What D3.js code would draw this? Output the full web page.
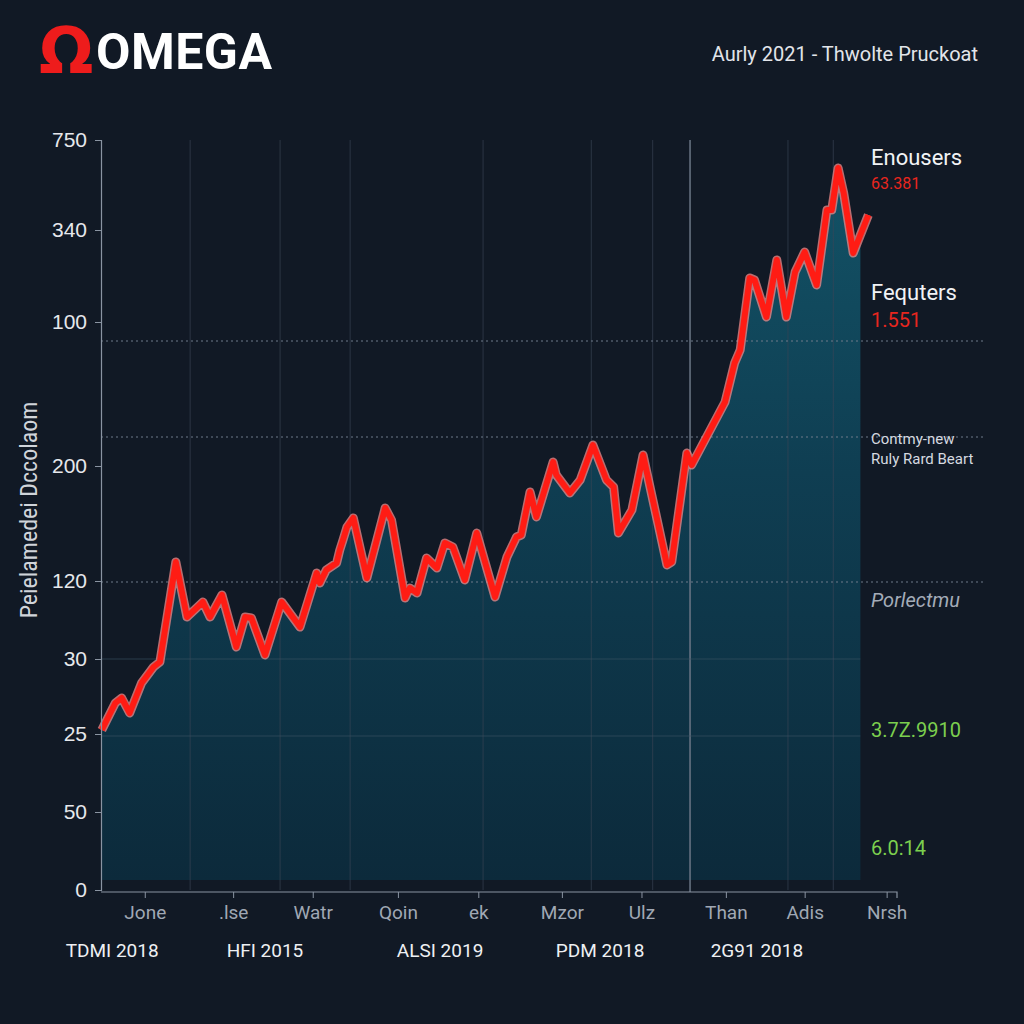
<!DOCTYPE html>
<html><head><meta charset="utf-8">
<script src="https://cdn.jsdelivr.net/npm/d3@7"></script>
<style>
html,body{margin:0;padding:0;background:#111925;}
svg{display:block;font-family:Roboto,"Noto Sans",sans-serif;}
</style></head>
<body><svg id="c" width="1024" height="1024"></svg>
<script>
// ---- data ----
const seriesT = [0.1,1.8,2.6,3.6,5.1,6.6,7.4,9.4,10.8,12.8,13.7,15.2,17.0,18.1,18.9,20.6,22.7,25.0,27.1,27.5,28.3,29.6,30.0,30.4,30.9,31.7,33.4,35.7,36.5,38.2,38.8,39.7,40.9,42.2,43.2,44.2,45.7,47.2,49.5,51.0,52.2,52.8,53.9,54.7,56.8,57.2,58.9,60.2,61.8,63.5,64.4,65.0,66.7,68.1,71.1,71.7,73.6,74.2,75.2,77.4,78.4,79.6,80.3,81.5,82.1,83.6,84.9,86.1,87.2,88.4,89.9,91.2,91.8,92.6,93.3,94.5,96.4];
const seriesV = [160,187,192,177,207,223,228,328,273,288,273,295,243,273,272,235,288,263,317,307,320,327,340,350,363,372,312,382,370,292,302,297,332,322,347,343,310,357,293,333,353,355,398,373,428,415,397,410,445,410,403,357,380,435,325,328,437,425,440,473,488,527,540,612,610,573,630,573,618,638,605,680,680,722,697,637,675];
const yTickPos = [750,660,568,424,309,231,156,78,0];
const yTickLabels = ["750","340","100","200","120","30","25","50","0"];
const xTickPos = [5.5,16.6,26.6,37.3,47.4,57.9,67.9,78.5,88.4,98.7];
const xTickLabels = ["Jone",".lse","Watr","Qoin","ek","Mzor","Ulz","Than","Adis","Nrsh"];
const xGroupPos = [1.4,20.6,42.6,62.7,82.4];
const xGroupLabels = ["TDMI 2018","HFI 2015","ALSI 2019","PDM 2018","2G91 2018"];
const gridX = [11.2,22.5,31.3,48.0,61.6,69.3,86.3,92.0];
const gridXStrong = [74.0];
const gridYDotted = [549,453,308];
const gridYSolid = [231,154];
const title = "OMEGA";
const subtitle = "Aurly 2021 - Thwolte Pruckoat";
const yTitle = "Peielamedei Dccolaom";
const sideNotes = [
  {label:"Enousers", value:"63.381"},
  {label:"Fequters", value:"1.551"}
];
const midNote = ["Contmy-new","Ruly Rard Beart"];
const italicNote = "Porlectmu";
const greenValues = ["3.7Z.9910","6.0:14"];

// ---- layout ----
const svg = d3.select("#c");
const x = d3.scaleLinear().domain([0,100]).range([101,897]);
const y = d3.scaleLinear().domain([0,750]).range([890,140]);
const areaEndT = 95.4;

const defs = svg.append("defs");
const grad = defs.append("linearGradient").attr("id","ag").attr("x1",0).attr("x2",0)
  .attr("gradientUnits","userSpaceOnUse").attr("y1",y(750)).attr("y2",y(10));
grad.append("stop").attr("offset",0).attr("stop-color","#135468");
grad.append("stop").attr("offset",0.45).attr("stop-color","#0f3e52");
grad.append("stop").attr("offset",1).attr("stop-color","#0c2a3b");
defs.append("clipPath").attr("id","ac").append("rect")
  .attr("x",x(0)).attr("y",0).attr("width",x(areaEndT)-x(0)).attr("height",1024);

svg.append("rect").attr("width",1024).attr("height",1024).attr("fill","#111925");

const pts = seriesT.map((t,i)=>({t, v:seriesV[i]}));

// area
svg.append("path").datum(pts)
  .attr("clip-path","url(#ac)")
  .attr("fill","url(#ag)")
  .attr("d", d3.area().x(d=>x(d.t)).y0(y(10)).y1(d=>y(d.v)));

// grid
const g = svg.append("g");
g.selectAll(".vx").data(gridX).join("line")
  .attr("x1",d=>x(d)).attr("x2",d=>x(d)).attr("y1",y(750)).attr("y2",y(0))
  .attr("stroke","#3a4656").attr("stroke-opacity",0.55).attr("stroke-width",1.2);
g.selectAll(".vs").data(gridXStrong).join("line")
  .attr("x1",d=>x(d)).attr("x2",d=>x(d)).attr("y1",y(750)).attr("y2",y(0)+2)
  .attr("stroke","#6b7686").attr("stroke-width",1.5);
g.selectAll(".hd").data(gridYDotted).join("line")
  .attr("x1",x(0)).attr("x2",985).attr("y1",d=>y(d)).attr("y2",d=>y(d))
  .attr("stroke","#6f7b8a").attr("stroke-width",1).attr("stroke-dasharray","2,3");
g.selectAll(".hs").data(gridYSolid).join("line")
  .attr("x1",x(0)).attr("x2",x(areaEndT)).attr("y1",d=>y(d)).attr("y2",d=>y(d))
  .attr("stroke","#3c5566").attr("stroke-opacity",0.6).attr("stroke-width",1);

// line
const line = d3.line().x(d=>x(d.t)).y(d=>y(d.v));
svg.append("path").datum(pts).attr("fill","none").attr("stroke","#f08a8a").attr("stroke-opacity",0.75)
  .attr("stroke-width",9).attr("stroke-linejoin","round").attr("d",line);
svg.append("path").datum(pts).attr("fill","none").attr("stroke","#ff1c14")
  .attr("stroke-width",6).attr("stroke-linejoin","round").attr("d",line);

// y axis
const yAxis = d3.axisLeft(y).tickValues(yTickPos).tickFormat((d,i)=>yTickLabels[i]).tickSize(6).tickPadding(8);
const ya = svg.append("g").attr("transform",`translate(${x(0)},0)`).call(yAxis);
ya.select(".domain").attr("stroke","#8a94a2").attr("stroke-width",1.2);
ya.selectAll(".tick line").attr("stroke","#8a94a2");
ya.selectAll("text").attr("fill","#e6e8ec").attr("font-size",21).attr("font-family","'Liberation Sans',Arial,sans-serif");

// x axis
const xAxis = d3.axisBottom(x).tickValues(xTickPos).tickFormat((d,i)=>xTickLabels[i]).tickSize(6).tickSizeOuter(0).tickPadding(8);
const xa = svg.append("g").attr("transform",`translate(0,${y(0)+2})`).call(xAxis);
xa.select(".domain").attr("stroke","#8a94a2").attr("stroke-width",1.2).attr("d",`M${x(0)},0H${x(100)}V6`);
xa.selectAll(".tick line").attr("stroke","#8a94a2").attr("y1",-6).attr("y2",0).attr("transform","translate(0,6)");
xa.selectAll("text").attr("fill","#a0a8b4").attr("font-size",19).attr("font-family","Roboto,sans-serif");

svg.append("g").selectAll("text").data(xGroupPos).join("text")
  .attr("x",d=>x(d)).attr("y",957).attr("text-anchor","middle")
  .attr("fill","#eef0f3").attr("font-size",19)
  .text((d,i)=>xGroupLabels[i]);

// y title
svg.append("text").attr("transform","translate(37,510) rotate(-90)")
  .attr("text-anchor","middle").attr("fill","#d0d4da").attr("font-size",24)
  .attr("font-family","'Roboto Condensed',Roboto,sans-serif").text(yTitle);

// header
svg.append("text").attr("x",39).attr("y",73).attr("fill","#ee1c1c").attr("font-size",64)
  .attr("font-family","'DejaVu Sans',sans-serif").attr("font-weight","bold").text("Ω");
svg.append("text").attr("x",96).attr("y",69).attr("fill","#ffffff").attr("font-size",50)
  .attr("font-weight","bold").attr("font-family","Roboto,sans-serif").attr("letter-spacing",0.5).text(title);
svg.append("text").attr("x",978).attr("y",61).attr("text-anchor","end").attr("fill","#e2e5ea")
  .attr("font-size",20).text(subtitle);

// right notes
const notesY = [[165,189],[300,327]];
sideNotes.forEach((n,i)=>{
  svg.append("text").attr("x",871).attr("y",notesY[i][0]).attr("fill","#f2f3f5").attr("font-size",22).text(n.label);
  svg.append("text").attr("x",871).attr("y",notesY[i][1]).attr("fill","#e8261e").attr("font-size",i===0?16:20).text(n.value);
});
svg.append("text").attr("x",871).attr("y",444).attr("fill","#d6dae0").attr("font-size",15).text(midNote[0]);
svg.append("text").attr("x",871).attr("y",464).attr("fill","#d6dae0").attr("font-size",15).text(midNote[1]);
svg.append("text").attr("x",871).attr("y",607).attr("fill","#a4acb8").attr("font-size",20)
  .attr("font-style","italic").text(italicNote);
svg.append("text").attr("x",871).attr("y",737).attr("fill","#7ccf4e").attr("font-size",20).text(greenValues[0]);
svg.append("text").attr("x",871).attr("y",855).attr("fill","#7ccf4e").attr("font-size",20).text(greenValues[1]);
</script></body></html>
